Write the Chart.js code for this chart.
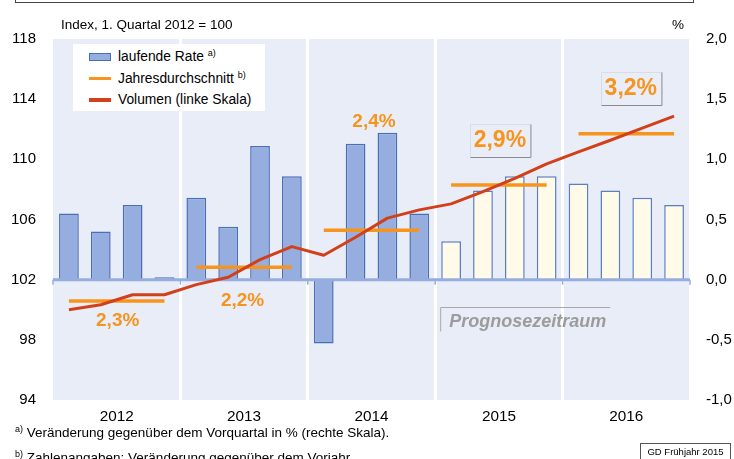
<!DOCTYPE html>
<html><head><meta charset="utf-8">
<script src="https://cdn.jsdelivr.net/npm/chart.js@4"></script>
<style>
body{margin:0;background:#fff;font-family:"Liberation Sans",Arial,sans-serif;}
#wrap{position:relative;width:734px;height:459px;overflow:hidden;background:#fff;}
canvas{position:absolute;left:0;top:0;}
.t{position:absolute;white-space:nowrap;color:#000;line-height:16px;font-size:13.5px;}
.s{font-size:9px;position:relative;top:-5px;}
#legend{position:absolute;left:73px;top:44px;width:192px;height:67px;background:#fff;}
.row{position:absolute;left:0;height:16px;}
.sw{position:absolute;left:16px;width:22px;}
.lt{position:absolute;left:45px;top:0;white-space:nowrap;line-height:16px;font-size:13.8px;}
#frame{position:absolute;left:15px;top:-2px;width:677px;height:4px;border:1px solid #444;border-top:none;}
#gd{position:absolute;left:640px;top:443px;width:91px;height:20px;border:1px solid #555;font-size:9.5px;line-height:15px;text-align:center;box-sizing:border-box;}
</style></head>
<body><div id="wrap">
<canvas id="c" width="734" height="459"></canvas>
<div id="frame"></div>
<div class="t" style="left:61px;top:17px;">Index, 1. Quartal 2012 = 100</div>
<div class="t" style="left:672px;top:17px;">%</div>
<div id="legend"></div>
<div class="t" style="left:15px;top:425px;"><span class="s">a)</span> Veränderung gegenüber dem Vorquartal in % (rechte Skala).</div>
<div class="t" style="left:15px;top:450px;"><span class="s">b)</span> Zahlenangaben: Veränderung gegenüber dem Vorjahr.</div>
<div id="gd">GD Frühjahr 2015</div>
</div>
<script>
// ---- data ----
const quartale = ['2012 Q1','2012 Q2','2012 Q3','2012 Q4','2013 Q1','2013 Q2','2013 Q3','2013 Q4','2014 Q1','2014 Q2','2014 Q3','2014 Q4','2015 Q1','2015 Q2','2015 Q3','2015 Q4','2016 Q1','2016 Q2','2016 Q3','2016 Q4'];
const jahre = ['2012','2013','2014','2015','2016'];
const laufendeRate = [0.55,0.40,0.62,0.02, 0.68,0.44,1.11,0.86, -0.53,1.13,1.22,0.55, 0.32,0.74,0.86,0.86, 0.80,0.74,0.68,0.62];
const volumen = [100.0,100.33,101.0,101.0, 101.67,102.16,103.33,104.2, 103.62,104.82,106.09,106.64, 107.04,107.85,108.73,109.7, 110.49,111.27,112.07,112.87];
const jahresdurchschnitt = [100.58,102.82,105.29,108.3,111.7];
const jahresrate = [2.3,2.2,2.4,2.9,3.2];
const ersterPrognoseIndex = 12;
const yTicksLinks = [94,98,102,106,110,114,118];
const yTicksRechts = [-1,-0.5,0,0.5,1,1.5,2];
const seriesLabels = ['laufende Rate','Jahresdurchschnitt','Volumen (linke Skala)'];
const seriesNotes = ['a)','b)',''];

// ---- styles ----
const C = {bg:'#E9EDF8', bar:'#95AEDF', barB:'#4A6FB5', fc:'#FFFBE8', fcB:'#5B7FC2', orange:'#F7941D', red:'#D2401A', zero:'#95AEDF'};
const rateLabelStyle = [
  {dy:99.27, dx:1, size:19, box:false},
  {dy:100.63, dx:-1.5, size:19, box:false},
  {dy:112.51, dx:2.5, size:19, box:false},
  {dy:111.25, dx:1, size:23, box:true},
  {dy:114.73, dx:4.5, size:23, box:true}
];

const jdLine = quartale.map((q,i)=>jahresdurchschnitt[Math.floor(i/4)]);
const fmt = v => v.toFixed(1).replace('.',',');

// legend
const lg = document.getElementById('legend');
const swatches = [
  '<div class="sw" style="top:4px;height:8px;box-sizing:border-box;background:'+C.bar+';border:1px solid '+C.barB+'"></div>',
  '<div class="sw" style="top:6px;height:3.5px;background:'+C.orange+'"></div>',
  '<div class="sw" style="top:6px;height:3.5px;background:'+C.red+'"></div>'
];
const rowTop = [5,26.5,48];
seriesLabels.forEach((l,i)=>{
  lg.innerHTML += '<div class="row" style="top:'+rowTop[i]+'px;width:192px">'+swatches[i]+'<div class="lt">'+l+(seriesNotes[i]?' <span class="s">'+seriesNotes[i]+'</span>':'')+'</div></div>';
});

const FONT = '"Liberation Sans", Arial, sans-serif';

const backdrop = {
  id:'backdrop',
  beforeDraw(chart){
    const {ctx, chartArea:a} = chart;
    ctx.save(); ctx.fillStyle = C.bg; ctx.fillRect(a.left, a.top, a.right-a.left, a.bottom-a.top); ctx.restore();
  },
  afterDatasetDraw(chart, args){
    if (args.index !== 0) return;
    const {ctx, chartArea:a} = chart;
    const y0 = chart.scales.y2.getPixelForValue(0);
    ctx.save();
    ctx.strokeStyle = C.zero; ctx.lineWidth = 3;
    ctx.beginPath(); ctx.moveTo(a.left, y0); ctx.lineTo(a.right, y0); ctx.stroke();
    ctx.lineWidth = 1.5;
    const step = (a.right - a.left)/jahre.length;
    for (let i=0;i<=jahre.length;i++){
      const x = a.left + i*step;
      ctx.beginPath(); ctx.moveTo(x, y0); ctx.lineTo(x, y0+5); ctx.stroke();
    }
    ctx.restore();
  },
  afterDatasetsDraw(chart){
    const {ctx, chartArea:a} = chart;
    const xs = chart.scales.xYear, ys = chart.scales.y, y2 = chart.scales.y2;
    ctx.save();
    jahresrate.forEach((r,i)=>{
      const st = rateLabelStyle[i];
      const x = xs.getPixelForTick(i) + st.dx;
      const y = ys.getPixelForValue(st.dy);
      const txt = fmt(r)+'%';
      ctx.font = 'bold '+st.size+'px '+FONT;
      if (st.box){
        const w = ctx.measureText(txt).width + 8, h = 33;
        const l = Math.round(x - w/2)+0.5, t = Math.round(y - h/2)+0.5;
        ctx.lineWidth = 1;
        ctx.strokeStyle = '#D8DCE6';
        ctx.beginPath(); ctx.moveTo(l, t+h); ctx.lineTo(l, t); ctx.lineTo(l+w, t); ctx.stroke();
        ctx.strokeStyle = '#8A8A8A';
        ctx.beginPath(); ctx.moveTo(l+w, t); ctx.lineTo(l+w, t+h); ctx.lineTo(l, t+h); ctx.stroke();
      }
      ctx.fillStyle = C.orange; ctx.textAlign='center'; ctx.textBaseline='middle';
      ctx.fillText(txt, x, y+0.5);
    });
    // Prognosezeitraum
    const step = (a.right - a.left)/jahre.length;
    const xb = a.left + 3*step;
    const yTop = Math.round(y2.getPixelForValue(-0.23))+0.5;
    const yTxt = y2.getPixelForValue(-0.355);
    ctx.strokeStyle = '#A8A8A8'; ctx.lineWidth = 1;
    ctx.beginPath(); ctx.moveTo(xb+5.5, yTop+24); ctx.lineTo(xb+5.5, yTop); ctx.lineTo(xb+175, yTop); ctx.stroke();
    ctx.font = 'italic bold 18px '+FONT;
    ctx.fillStyle = '#9C9C9C'; ctx.textAlign='left'; ctx.textBaseline='middle';
    ctx.fillText('Prognosezeitraum', xb+14, yTxt);
    ctx.restore();
  }
};

new Chart(document.getElementById('c'), {
  data:{
    labels: quartale,
    datasets:[
      {type:'bar', label:seriesLabels[0], data:laufendeRate, xAxisID:'x', yAxisID:'y2',
       backgroundColor: laufendeRate.map((v,i)=> i>=ersterPrognoseIndex ? C.fc : C.bar),
       borderColor: laufendeRate.map((v,i)=> i>=ersterPrognoseIndex ? C.fcB : C.barB),
       borderWidth:1.5, barPercentage:0.62, categoryPercentage:1, order:3},
      {type:'line', label:seriesLabels[1], data:jdLine, xAxisID:'x', yAxisID:'y',
       borderColor:C.orange, borderWidth:3.5, pointRadius:0, borderCapStyle:'butt',
       segment:{borderColor: ctx => (Math.floor(ctx.p0DataIndex/4) !== Math.floor(ctx.p1DataIndex/4)) ? 'rgba(0,0,0,0)' : C.orange},
       order:2},
      {type:'line', label:seriesLabels[2], data:volumen, xAxisID:'x', yAxisID:'y',
       borderColor:C.red, borderWidth:3, pointRadius:0, tension:0, borderJoinStyle:'round', order:1}
    ]
  },
  options:{
    responsive:false, animation:false, devicePixelRatio:1,
    layout:{padding:{top:39,left:0,right:0,bottom:0}},
    plugins:{legend:{display:false}, tooltip:{enabled:false}},
    scales:{
      x:{type:'category', display:false, offset:true, grid:{offset:true}},
      xYear:{type:'category', labels:jahre, position:'bottom', offset:true,
        grid:{offset:true, drawTicks:false, lineWidth:3,
          color: ctx => (ctx.index===0 || ctx.index===jahre.length) ? 'rgba(0,0,0,0)' : '#FFFFFF'},
        border:{display:false},
        ticks:{font:{family:FONT, size:15.3}, color:'#000', padding:8, maxRotation:0},
        afterFit: s => { s.height = 59; }},
      y:{position:'left', min:94, max:118,
        afterBuildTicks: s => { s.ticks = yTicksLinks.map(v=>({value:v})); },
        grid:{display:false, drawTicks:false}, border:{display:false},
        ticks:{font:{family:FONT, size:15}, color:'#000', padding:17},
        afterFit: s => { s.width = 53; }},
      y2:{position:'right', min:-1, max:2,
        afterBuildTicks: s => { s.ticks = yTicksRechts.map(v=>({value:v})); },
        grid:{display:false, drawTicks:false}, border:{display:false},
        ticks:{font:{family:FONT, size:15}, color:'#000', padding:16, callback: v => fmt(v)},
        afterFit: s => { s.width = 44; }}
    }
  },
  plugins:[backdrop]
});
</script>
</body></html>
